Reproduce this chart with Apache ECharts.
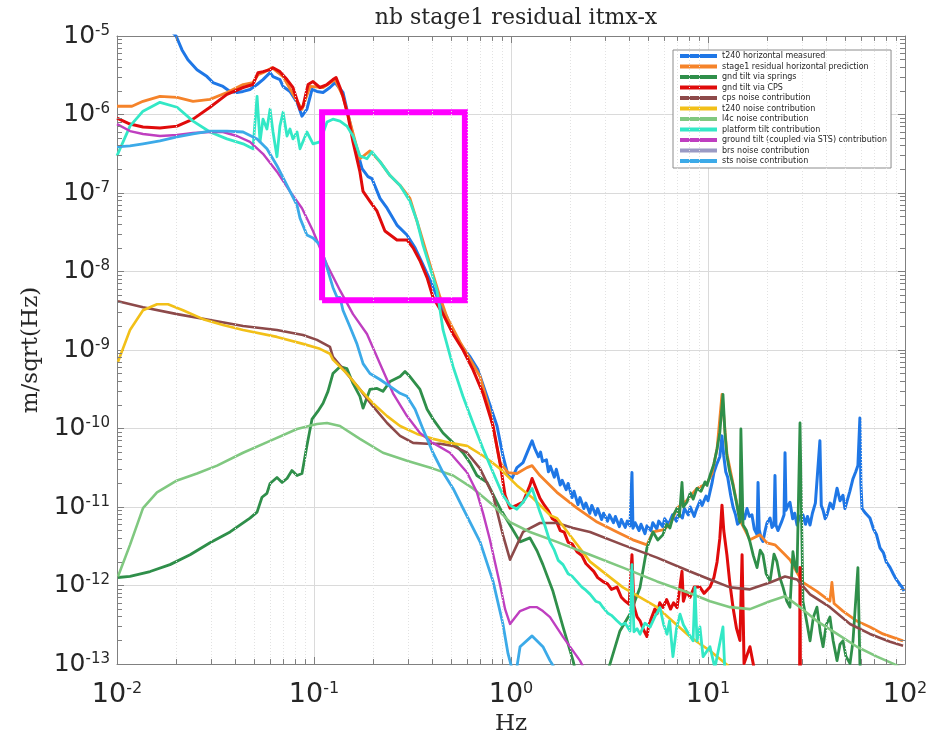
<!DOCTYPE html>
<html>
<head>
<meta charset="utf-8">
<script src="https://cdn.jsdelivr.net/npm/echarts@6/dist/echarts.min.js"></script>
<style>
html,body{margin:0;padding:0;background:#fff}
#chart{width:936px;height:741px}
</style>
</head>
<body>
<div id="chart"></div>
<script>
// Amplitude spectral densities, stored as [log10(Hz), log10(m/sqrt(Hz))] pairs.
const measuredLog = [
  [-1.74,-4.90],[-1.700,-5.000],[-1.670,-5.177],[-1.640,-5.303],[-1.594,-5.429],[-1.543,-5.517],[-1.513,-5.593],
  [-1.462,-5.643],[-1.426,-5.706],[-1.391,-5.719],[-1.360,-5.706],[-1.325,-5.681],[-1.289,-5.618],[-1.259,-5.555],
  [-1.223,-5.467],[-1.208,-5.517],[-1.173,-5.555],[-1.157,-5.643],[-1.122,-5.706],[-1.086,-5.845],[-1.061,-6.021],
  [-1.036,-5.933],[-1.010,-5.681],[-0.985,-5.706],[-0.954,-5.719],[-0.919,-5.656],[-0.893,-5.593],[-0.853,-5.719],
  [-0.833,-5.933],[-0.802,-6.274],[-0.756,-6.690],[-0.726,-6.791],[-0.706,-6.816],[-0.665,-7.068],[-0.629,-7.194],
  [-0.579,-7.409],[-0.528,-7.535],[-0.487,-7.699],[-0.447,-7.913],[-0.401,-8.165],[-0.360,-8.417],[-0.325,-8.581],
  [-0.310,-8.707],[-0.259,-8.922],[-0.208,-9.086],[-0.168,-9.250],[-0.122,-9.590],[-0.071,-9.968],[-0.041,-10.347],
  [-0.015,-10.599],[0.005,-10.637],[0.030,-10.498],[0.061,-10.435],[0.096,-10.221],[0.107,-10.157],[0.12,-10.25],
  [0.14,-10.36],[0.15,-10.30],[0.16,-10.42],[0.18,-10.40],[0.19,-10.55],[0.20,-10.48],[0.22,-10.62],[0.23,-10.52],
  [0.25,-10.72],[0.26,-10.66],[0.28,-10.78],[0.29,-10.70],[0.31,-10.88],[0.32,-10.80],[0.34,-10.97],[0.35,-10.88],
  [0.37,-11.02],[0.38,-10.95],[0.40,-11.08],[0.41,-10.98],[0.43,-11.10],[0.44,-11.02],[0.46,-11.16],[0.47,-11.08],
  [0.49,-11.18],[0.50,-11.10],[0.52,-11.20],[0.53,-11.12],[0.55,-11.25],[0.56,-11.16],[0.58,-11.26],[0.59,-11.18],
  [0.604,-11.24],[0.614,-10.56],[0.619,-11.27],[0.63,-11.20],[0.65,-11.30],[0.66,-11.22],[0.68,-11.34],[0.69,-11.24],
  [0.71,-11.30],[0.72,-11.20],[0.74,-11.28],[0.75,-11.18],[0.77,-11.25],[0.78,-11.15],[0.80,-11.22],[0.82,-11.10],
  [0.84,-11.18],[0.85,-11.08],[0.87,-11.14],[0.88,-11.02],[0.90,-11.10],[0.91,-11.00],[0.93,-11.12],[0.94,-11.04],
  [0.96,-10.92],[0.97,-10.98],[0.99,-10.86],[1.00,-10.92],[1.02,-10.70],[1.03,-10.56],[1.045,-10.45],[1.06,-10.36],
  [1.071,-10.094],[1.08,-10.35],[1.09,-10.55],[1.10,-10.62],[1.115,-10.85],[1.127,-11.00],[1.14,-11.10],[1.15,-11.22],
  [1.162,-11.19],[1.175,-11.08],[1.185,-11.15],[1.198,-11.02],[1.21,-11.12],[1.223,-11.10],[1.235,-11.28],[1.249,-11.35],
  [1.254,-10.687],[1.26,-11.29],[1.27,-11.40],[1.279,-11.44],[1.29,-11.30],[1.30,-11.20],[1.315,-11.14],[1.325,-11.26],
  [1.335,-11.23],[1.340,-10.60],[1.345,-11.23],[1.355,-11.30],[1.365,-11.32],[1.375,-11.18],[1.386,-11.10],[1.391,-10.31],
  [1.396,-11.04],[1.406,-10.98],[1.416,-10.94],[1.43,-11.15],[1.44,-11.08],[1.452,-11.23],[1.465,-11.12],[1.482,-11.10],
  [1.495,-11.22],[1.505,-11.12],[1.518,-11.23],[1.53,-11.08],[1.545,-10.95],[1.553,-10.94],[1.568,-10.157],[1.575,-10.98],
  [1.584,-11.04],[1.595,-11.15],[1.604,-11.10],[1.62,-10.95],[1.635,-11.02],[1.655,-10.76],[1.67,-10.92],[1.685,-10.85],
  [1.695,-11.02],[1.705,-11.01],[1.72,-10.80],[1.736,-10.64],[1.75,-10.55],[1.761,-10.47],[1.771,-9.867],[1.776,-10.70],
  [1.782,-11.02],[1.80,-11.08],[1.822,-11.14],[1.84,-11.28],[1.855,-11.35],[1.873,-11.52],[1.89,-11.58],[1.905,-11.70],
  [1.924,-11.77],[1.94,-11.85],[1.955,-11.92],[1.975,-11.99],[1.985,-12.02],[1.995,-12.07]
];
const predictionLog = [
  [-2.000,-5.895],[-1.924,-5.895],[-1.868,-5.832],[-1.782,-5.769],[-1.695,-5.782],[-1.614,-5.832],[-1.528,-5.807],
  [-1.442,-5.719],[-1.360,-5.618],[-1.310,-5.593],[-1.284,-5.492],[-1.259,-5.467],[-1.213,-5.404],[-1.157,-5.517],
  [-1.086,-5.832],[-1.061,-5.933],[-1.020,-5.643],[-0.954,-5.656],[-0.893,-5.555],[-0.853,-5.769],[-0.817,-6.097],
  [-0.767,-6.564],[-0.716,-6.463],[-0.665,-6.601],[-0.614,-6.778],[-0.563,-6.904],[-0.513,-7.068],[-0.462,-7.484],
  [-0.411,-7.913],[-0.360,-8.329],[-0.325,-8.581],[-0.259,-8.897],[-0.157,-9.338],[-0.107,-9.779],[-0.056,-10.435],
  [-0.015,-10.561],[0.030,-10.574],[0.081,-10.498],[0.107,-10.473],[0.147,-10.599],[0.233,-10.813],[0.335,-11.015],
  [0.437,-11.192],[0.538,-11.318],[0.619,-11.418],[0.690,-11.482],[0.721,-11.318],[0.771,-11.292],[0.807,-11.229],
  [0.843,-11.015],[0.893,-10.914],[0.944,-10.763],[0.995,-10.700],[1.020,-10.574],[1.046,-10.258],[1.071,-9.565],
  [1.096,-10.321],[1.127,-10.700],[1.162,-11.166],[1.213,-11.418],[1.264,-11.355],[1.299,-11.456],[1.340,-11.482],
  [1.381,-11.582],[1.416,-11.671],[1.452,-11.835],[1.482,-11.961],[1.553,-12.074],[1.619,-12.200],[1.629,-11.961],
  [1.640,-12.230],[1.685,-12.326],[1.756,-12.453],[1.822,-12.528],[1.888,-12.617],[1.990,-12.705]
];
const springsLog = [
  [-1.995,-11.898],[-1.934,-11.885],[-1.832,-11.822],[-1.731,-11.734],[-1.629,-11.608],[-1.528,-11.456],[-1.426,-11.318],
  [-1.325,-11.141],[-1.289,-11.065],[-1.264,-10.876],[-1.239,-10.826],[-1.223,-10.700],[-1.188,-10.624],[-1.162,-10.687],
  [-1.137,-10.637],[-1.112,-10.536],[-1.086,-10.599],[-1.061,-10.574],[-1.036,-10.221],[-1.010,-9.880],[-0.980,-9.779],
  [-0.954,-9.678],[-0.929,-9.527],[-0.904,-9.300],[-0.868,-9.212],[-0.833,-9.237],[-0.802,-9.426],[-0.767,-9.590],
  [-0.751,-9.741],[-0.716,-9.502],[-0.680,-9.489],[-0.650,-9.527],[-0.614,-9.401],[-0.563,-9.338],[-0.538,-9.275],
  [-0.513,-9.338],[-0.462,-9.502],[-0.426,-9.754],[-0.396,-9.880],[-0.345,-10.057],[-0.294,-10.183],[-0.244,-10.309],
  [-0.208,-10.435],[-0.173,-10.599],[-0.122,-10.687],[-0.056,-11.015],[-0.005,-11.229],[0.046,-11.444],[0.096,-11.393],
  [0.132,-11.557],[0.162,-11.734],[0.213,-12.074],[0.264,-12.528],[0.315,-12.957],[0.330,-13.121],[0.41,-13.6],
  [0.487,-13.121],[0.503,-12.995],[0.553,-12.579],[0.604,-12.364],[0.655,-12.024],[0.690,-11.519],[0.721,-11.318],
  [0.745,-11.42],[0.771,-11.355],[0.79,-11.22],[0.807,-11.267],[0.825,-11.10],[0.843,-11.015],[0.855,-11.12],
  [0.868,-10.687],[0.875,-11.00],[0.893,-10.939],[0.91,-10.82],[0.925,-10.90],[0.944,-10.763],[0.965,-10.80],
  [0.985,-10.68],[0.995,-10.725],[1.010,-10.599],[1.03,-10.45],[1.046,-10.258],[1.06,-10.05],[1.076,-9.565],
  [1.086,-10.05],[1.096,-10.347],[1.11,-10.55],[1.127,-10.725],[1.145,-10.95],[1.162,-11.192],[1.167,-10.006],
  [1.178,-11.229],[1.195,-11.30],[1.213,-11.444],[1.23,-11.62],[1.249,-11.772],[1.265,-11.55],[1.279,-11.608],
  [1.295,-11.85],[1.315,-11.948],[1.335,-11.60],[1.350,-11.696],[1.365,-11.90],[1.381,-12.024],[1.40,-12.20],
  [1.416,-12.276],[1.431,-11.570],[1.442,-11.75],[1.452,-11.822],[1.467,-9.930],[1.482,-12.200],[1.50,-12.45],
  [1.518,-12.705],[1.535,-12.40],[1.553,-12.276],[1.57,-12.60],[1.584,-12.780],[1.60,-12.50],[1.619,-12.402],
  [1.635,-12.70],[1.655,-12.957],[1.67,-12.75],[1.685,-12.705],[1.70,-12.90],[1.721,-12.995],[1.736,-12.705],
  [1.761,-11.772],[1.771,-12.995],[1.782,-13.2]
];
const cpsTiltLog = [
  [-2.000,-6.047],[-1.934,-6.122],[-1.868,-6.160],[-1.782,-6.173],[-1.695,-6.148],[-1.614,-6.059],[-1.528,-5.908],
  [-1.442,-5.744],[-1.360,-5.656],[-1.310,-5.618],[-1.284,-5.467],[-1.259,-5.454],[-1.223,-5.429],[-1.208,-5.404],
  [-1.173,-5.454],[-1.137,-5.555],[-1.107,-5.656],[-1.071,-5.933],[-1.056,-5.895],[-1.030,-5.618],[-1.005,-5.580],
  [-0.970,-5.656],[-0.934,-5.618],[-0.904,-5.555],[-0.888,-5.530],[-0.868,-5.656],[-0.853,-5.769],[-0.827,-6.021],
  [-0.802,-6.349],[-0.767,-6.728],[-0.751,-6.980],[-0.716,-7.106],[-0.680,-7.232],[-0.640,-7.484],[-0.579,-7.598],
  [-0.528,-7.598],[-0.497,-7.699],[-0.462,-7.862],[-0.426,-8.077],[-0.396,-8.329],[-0.345,-8.543],[-0.294,-8.796],
  [-0.244,-8.997],[-0.193,-9.250],[-0.142,-9.552],[-0.091,-9.968],[-0.056,-10.435],[-0.030,-10.851],[-0.005,-11.015],
  [0.030,-10.977],[0.061,-10.939],[0.096,-10.725],[0.107,-10.637],[0.147,-10.889],[0.17,-10.98],[0.19,-11.05],
  [0.21,-11.15],[0.23,-11.18],[0.25,-11.30],[0.27,-11.32],[0.29,-11.45],[0.31,-11.47],[0.335,-11.57],[0.36,-11.62],
  [0.38,-11.72],[0.40,-11.77],[0.42,-11.82],[0.44,-11.90],[0.467,-11.95],[0.49,-11.98],[0.51,-12.05],[0.538,-12.02],
  [0.56,-12.15],[0.58,-12.20],[0.60,-12.24],[0.614,-11.608],[0.624,-12.26],[0.64,-12.40],[0.655,-12.45],[0.67,-12.55],
  [0.69,-12.65],[0.70,-12.50],[0.715,-12.40],[0.73,-12.30],[0.741,-12.36],[0.755,-12.22],[0.771,-12.28],[0.79,-12.18],
  [0.81,-12.30],[0.825,-12.22],[0.843,-12.28],[0.868,-11.82],[0.875,-12.20],[0.89,-12.08],[0.909,-12.15],[0.93,-12.02],
  [0.959,-12.02],[0.98,-12.10],[1.010,-12.02],[1.03,-11.90],[1.046,-11.70],[1.06,-11.40],[1.071,-10.977],[1.08,-11.30],
  [1.096,-11.61],[1.11,-11.95],[1.127,-12.28],[1.145,-12.55],[1.162,-12.70],[1.173,-11.608],[1.183,-12.995],
  [1.213,-12.780],[1.239,-13.121],[1.35,-13.6],[1.465,-13.2],[1.467,-11.772],[1.469,-13.2],[1.55,-13.6]
];
const cpsNoiseLog = [
  [-1.995,-8.380],[-1.868,-8.455],[-1.695,-8.543],[-1.528,-8.619],[-1.360,-8.695],[-1.188,-8.745],[-1.056,-8.808],
  [-0.985,-8.871],[-0.919,-8.960],[-0.904,-9.086],[-0.833,-9.300],[-0.767,-9.502],[-0.701,-9.716],[-0.629,-9.930],
  [-0.563,-10.094],[-0.497,-10.183],[-0.426,-10.195],[-0.360,-10.195],[-0.294,-10.221],[-0.223,-10.309],[-0.157,-10.511],
  [-0.091,-10.851],[-0.041,-11.355],[-0.005,-11.671],[0.030,-11.482],[0.061,-11.318],[0.147,-11.204],[0.233,-11.204],
  [0.315,-11.267],[0.401,-11.318],[0.568,-11.482],[0.741,-11.645],[0.909,-11.822],[1.010,-11.923],[1.112,-12.024],
  [1.213,-12.049],[1.315,-11.961],[1.391,-11.885],[1.452,-11.923],[1.518,-12.112],[1.619,-12.276],[1.721,-12.490],
  [1.822,-12.617],[1.924,-12.717],[1.990,-12.768]
];
const t240NoiseLog = [
  [-1.995,-9.149],[-1.934,-8.745],[-1.868,-8.493],[-1.797,-8.417],[-1.741,-8.417],[-1.665,-8.493],[-1.563,-8.607],
  [-1.462,-8.682],[-1.360,-8.745],[-1.188,-8.833],[-1.056,-8.922],[-0.970,-8.985],[-0.919,-9.048],[-0.904,-9.123],
  [-0.833,-9.300],[-0.767,-9.502],[-0.701,-9.678],[-0.629,-9.842],[-0.563,-9.968],[-0.477,-10.069],[-0.396,-10.132],
  [-0.310,-10.183],[-0.223,-10.221],[-0.142,-10.347],[-0.107,-10.410],[-0.056,-10.511],[0.030,-10.725],[0.112,-10.889],
  [0.198,-11.103],[0.233,-11.141],[0.401,-11.696],[0.568,-12.024],[0.741,-12.276],[0.909,-12.654],[1.010,-12.831],
  [1.101,-13.020],[1.2,-13.3]
];
const l4cNoiseLog = [
  [-1.995,-11.885],[-1.934,-11.482],[-1.868,-11.015],[-1.797,-10.813],[-1.695,-10.662],[-1.594,-10.574],[-1.492,-10.473],
  [-1.360,-10.309],[-1.223,-10.157],[-1.086,-10.006],[-0.985,-9.943],[-0.934,-9.930],[-0.868,-9.968],[-0.767,-10.132],
  [-0.650,-10.309],[-0.528,-10.410],[-0.396,-10.511],[-0.294,-10.599],[-0.193,-10.763],[-0.091,-10.977],[-0.005,-11.192],
  [0.096,-11.318],[0.233,-11.444],[0.401,-11.608],[0.568,-11.772],[0.741,-11.948],[0.909,-12.099],[1.010,-12.200],
  [1.112,-12.276],[1.213,-12.301],[1.315,-12.200],[1.391,-12.137],[1.467,-12.276],[1.553,-12.453],[1.655,-12.617],
  [1.756,-12.780],[1.858,-12.906],[1.939,-12.995],[1.975,-13.04]
];
const platformTiltLog = [
  [-2.000,-6.526],[-1.934,-6.148],[-1.868,-5.958],[-1.782,-5.845],[-1.695,-5.908],[-1.614,-6.084],[-1.528,-6.223],
  [-1.442,-6.311],[-1.360,-6.374],[-1.310,-6.437],[-1.289,-5.769],[-1.274,-6.349],[-1.259,-6.059],[-1.239,-6.185],
  [-1.223,-5.933],[-1.208,-6.223],[-1.188,-6.538],[-1.173,-6.148],[-1.157,-5.971],[-1.137,-6.274],[-1.122,-6.185],
  [-1.107,-6.311],[-1.086,-6.223],[-1.071,-6.437],[-1.036,-6.223],[-1.005,-6.374],[-0.970,-6.349],[-0.934,-6.097],
  [-0.904,-6.059],[-0.868,-6.084],[-0.833,-6.148],[-0.802,-6.274],[-0.767,-6.526],[-0.731,-6.564],[-0.706,-6.475],
  [-0.665,-6.601],[-0.614,-6.778],[-0.563,-6.904],[-0.513,-7.106],[-0.477,-7.358],[-0.447,-7.661],[-0.411,-7.951],
  [-0.376,-8.241],[-0.360,-8.493],[-0.345,-8.745],[-0.294,-9.212],[-0.244,-9.590],[-0.193,-9.930],[-0.142,-10.258],
  [-0.091,-10.561],[-0.041,-10.851],[-0.005,-10.977],[0.030,-11.028],[0.061,-10.939],[0.107,-10.763],[0.147,-11.065],
  [0.17,-11.22],[0.198,-11.444],[0.22,-11.55],[0.24,-11.68],[0.264,-11.734],[0.29,-11.85],[0.31,-11.88],[0.335,-11.95],
  [0.36,-12.02],[0.38,-12.06],[0.401,-12.11],[0.43,-12.20],[0.45,-12.22],[0.467,-12.28],[0.49,-12.35],[0.51,-12.38],
  [0.538,-12.45],[0.56,-12.50],[0.58,-12.48],[0.604,-12.58],[0.614,-11.734],[0.624,-12.59],[0.64,-12.55],[0.655,-12.62],
  [0.68,-12.48],[0.706,-12.53],[0.73,-12.40],[0.756,-12.28],[0.775,-12.50],[0.792,-12.62],[0.805,-12.45],[0.822,-12.906],
  [0.84,-12.55],[0.858,-12.364],[0.875,-12.50],[0.893,-12.579],[0.924,-12.705],[0.934,-12.024],[0.944,-12.705],
  [0.959,-12.528],[0.975,-12.906],[1.010,-12.780],[1.035,-13.05],[1.076,-12.528],[1.086,-13.12],[1.12,-13.4]
];
const stsTiltLog = [
  [-2.000,-6.122],[-1.934,-6.211],[-1.868,-6.248],[-1.782,-6.274],[-1.695,-6.261],[-1.614,-6.236],[-1.528,-6.223],
  [-1.462,-6.223],[-1.391,-6.274],[-1.325,-6.349],[-1.259,-6.501],[-1.188,-6.728],[-1.122,-6.980],[-1.061,-7.194],
  [-1.005,-7.484],[-0.934,-7.913],[-0.868,-8.241],[-0.802,-8.543],[-0.731,-8.796],[-0.665,-9.174],[-0.599,-9.552],
  [-0.528,-9.842],[-0.462,-10.057],[-0.396,-10.183],[-0.310,-10.309],[-0.223,-10.561],[-0.173,-10.813],[-0.142,-11.078],
  [-0.107,-11.418],[-0.056,-11.986],[-0.030,-12.301],[-0.005,-12.490],[0.046,-12.326],[0.096,-12.276],[0.132,-12.276],
  [0.162,-12.326],[0.198,-12.402],[0.264,-12.654],[0.350,-12.957],[0.371,-13.058],[0.42,-13.3]
];
const brsNoiseLog = [];
const stsNoiseLog = [
  [-2.000,-6.412],[-1.934,-6.400],[-1.868,-6.374],[-1.782,-6.337],[-1.695,-6.286],[-1.614,-6.248],[-1.528,-6.211],
  [-1.442,-6.211],[-1.360,-6.223],[-1.289,-6.311],[-1.239,-6.437],[-1.188,-6.652],[-1.137,-6.904],[-1.086,-7.156],
  [-1.071,-7.320],[-1.036,-7.535],[-1.005,-7.572],[-0.970,-7.661],[-0.934,-7.951],[-0.904,-8.203],[-0.883,-8.329],
  [-0.868,-8.329],[-0.853,-8.493],[-0.817,-8.707],[-0.782,-8.922],[-0.751,-9.174],[-0.716,-9.300],[-0.665,-9.376],
  [-0.614,-9.464],[-0.563,-9.552],[-0.528,-9.590],[-0.487,-9.754],[-0.447,-10.006],[-0.396,-10.309],[-0.345,-10.561],
  [-0.294,-10.763],[-0.244,-11.015],[-0.157,-11.444],[-0.091,-11.948],[-0.041,-12.490],[-0.015,-12.869],[0.005,-13.06],
  [0.02,-13.2],[0.046,-12.780],[0.107,-12.642],[0.162,-12.780],[0.198,-12.957],[0.223,-13.06],[0.26,-13.3]
];

// Highlight box corners: [log10(Hz)] and [log10(m/sqrt(Hz))].
const boxFreqLog = [-0.959, -0.234];
const boxAmpLog = [-8.367, -5.971];

const seriesNames = [
  't240 horizontal measured', 'stage1 residual horizontal prediction', 'gnd tilt via springs',
  'gnd tilt via CPS', 'cps noise contribution', 't240 noise contribution', 'l4c noise contribution',
  'platform tilt contribution', 'ground tilt (coupled via STS) contribution', 'brs noise contribution',
  'sts noise contribution'
];
const seriesData = [measuredLog, predictionLog, springsLog, cpsTiltLog, cpsNoiseLog, t240NoiseLog,
  l4cNoiseLog, platformTiltLog, stsTiltLog, brsNoiseLog, stsNoiseLog];
const seriesColors = ['#1f77e6', '#f5832a', '#2f8f4a', '#e00b0b', '#8d4a4a', '#f2c018', '#80c880',
  '#33e8c6', '#bf3fc0', '#9a9ac4', '#3caae8'];
const seriesWidths = [3, 2.8, 2.8, 3, 2.6, 2.6, 2.6, 2.8, 2.4, 2.6, 2.8];

const xRange = [1e-2, 1e2];
const yRange = [1e-13, 1e-5];

const toLinear = arr => arr.map(p => [Math.pow(10, p[0]), Math.pow(10, p[1])]);

// minor decade subdivisions (2..9)
function minorValues(lo, hi) {
  const out = [];
  for (let d = lo; d < hi; d++) for (let k = 2; k < 10; k++) out.push(k * Math.pow(10, d));
  return out;
}
const minorX = minorValues(-2, 2);
const minorY = minorValues(-13, -5);

const gridLineStyle = { color: '#e2e2e2', width: 1, type: [1, 2] };
const gridMarks = [];
minorX.forEach(v => gridMarks.push({ xAxis: v }));
minorY.forEach(v => gridMarks.push({ yAxis: v }));

// short inward tick segments at the minor positions on all four sides
const tickDecX = 5 / 197, tickDecY = 5 / 79.4;
const tickMarks = [];
minorX.forEach(v => {
  tickMarks.push([{ coord: [v, yRange[0]] }, { coord: [v, yRange[0] * Math.pow(10, tickDecY)] }]);
  tickMarks.push([{ coord: [v, yRange[1]] }, { coord: [v, yRange[1] / Math.pow(10, tickDecY)] }]);
});
minorY.forEach(v => {
  tickMarks.push([{ coord: [xRange[0], v] }, { coord: [xRange[0] * Math.pow(10, tickDecX), v] }]);
  tickMarks.push([{ coord: [xRange[1], v] }, { coord: [xRange[1] / Math.pow(10, tickDecX), v] }]);
});

const boxPath = [
  [boxFreqLog[0], boxAmpLog[0]], [boxFreqLog[1], boxAmpLog[0]], [boxFreqLog[1], boxAmpLog[1]],
  [boxFreqLog[0], boxAmpLog[1]], [boxFreqLog[0], boxAmpLog[0]]
];

const supLabel = v => {
  const e = Math.round(Math.log10(v));
  return '{b|10}{e|' + e + '}';
};

const axisColor = '#808080';
const textColor = '#262626';

const series = [{
  type: 'line', name: '_grid', data: [], silent: true, z: 1,
  markLine: { symbol: ['none', 'none'], silent: true, animation: false, label: { show: false },
    lineStyle: gridLineStyle, emphasis: { disabled: true }, data: gridMarks }
}];
seriesNames.forEach((n, i) => {
  series.push({
    type: 'line', name: n, data: toLinear(seriesData[i]), showSymbol: false, symbol: 'none',
    lineStyle: { color: seriesColors[i], width: seriesWidths[i], join: 'round' },
    itemStyle: { color: seriesColors[i] }, z: 2 + i * 0.01, clip: true, animation: false,
    emphasis: { disabled: true }
  });
});
series.push({
  type: 'line', name: '_box', data: toLinear(boxPath), showSymbol: false, symbol: 'none',
  lineStyle: { color: '#ff00ff', width: 6, join: 'miter' }, z: 4, silent: true, animation: false
});
series.push({
  type: 'line', name: '_ticks', data: [], silent: true, z: 5,
  markLine: { symbol: ['none', 'none'], silent: true, animation: false, label: { show: false },
    lineStyle: { color: axisColor, width: 1, type: 'solid' }, emphasis: { disabled: true }, data: tickMarks }
});

const chart = echarts.init(document.getElementById('chart'), null, { renderer: 'canvas' });
chart.setOption({
  backgroundColor: '#ffffff',
  animation: false,
  title: {
    text: 'nb stage1 residual itmx-x', left: 511, top: 2, textAlign: 'center',
    textStyle: { fontFamily: 'DejaVu Serif', fontSize: 22, fontWeight: 'normal', color: textColor }
  },
  grid: { left: 117, right: 31, top: 36, bottom: 70, show: false },
  legend: {
    data: seriesNames, orient: 'vertical', left: 673, top: 50,
    padding: [1, 4, 2, 7], itemGap: 0.5, itemWidth: 37, itemHeight: 4, icon: 'rect',
    backgroundColor: '#ffffff', borderColor: '#8c8c8c', borderWidth: 1,
    textStyle: { fontFamily: 'DejaVu Sans', fontSize: 8, lineHeight: 10, color: textColor },
    selectedMode: false
  },
  xAxis: [{
    type: 'log', logBase: 10, min: xRange[0], max: xRange[1], interval: 1,
    name: 'Hz', nameLocation: 'middle', nameGap: 49,
    nameTextStyle: { fontFamily: 'DejaVu Serif', fontSize: 23, color: textColor },
    axisLine: { show: true, lineStyle: { color: axisColor, width: 1 } },
    axisTick: { show: true, inside: true, length: 7, lineStyle: { color: axisColor } },
    splitLine: { show: true, lineStyle: { color: '#dadada', width: 1 } },
    axisLabel: {
      margin: 17, formatter: supLabel, color: textColor,
      rich: {
        b: { fontFamily: 'DejaVu Sans', fontSize: 27, color: textColor },
        e: { fontFamily: 'DejaVu Sans', fontSize: 16, color: textColor, verticalAlign: 'top' }
      }
    }
  }, {
    type: 'log', logBase: 10, min: xRange[0], max: xRange[1], interval: 1, position: 'top',
    axisLine: { show: true, lineStyle: { color: axisColor, width: 1 } },
    axisTick: { show: true, inside: true, length: 7, lineStyle: { color: axisColor } },
    axisLabel: { show: false }, splitLine: { show: false }
  }],
  yAxis: [{
    type: 'log', logBase: 10, min: yRange[0], max: yRange[1], interval: 1,
    name: 'm/sqrt(Hz)', nameLocation: 'middle', nameGap: 65, nameRotate: 90,
    nameTextStyle: { fontFamily: 'DejaVu Serif', fontSize: 23, color: textColor },
    axisLine: { show: true, lineStyle: { color: axisColor, width: 1 } },
    axisTick: { show: true, inside: true, length: 7, lineStyle: { color: axisColor } },
    splitLine: { show: true, lineStyle: { color: '#dadada', width: 1 } },
    axisLabel: {
      margin: 7, formatter: supLabel, color: textColor,
      rich: {
        b: { fontFamily: 'DejaVu Sans', fontSize: 25, color: textColor },
        e: { fontFamily: 'DejaVu Sans', fontSize: 15, color: textColor, verticalAlign: 'top' }
      }
    }
  }, {
    type: 'log', logBase: 10, min: yRange[0], max: yRange[1], interval: 1, position: 'right',
    axisLine: { show: true, lineStyle: { color: axisColor, width: 1 } },
    axisTick: { show: true, inside: true, length: 7, lineStyle: { color: axisColor } },
    axisLabel: { show: false }, splitLine: { show: false }
  }],
  series: series
});
</script>
</body>
</html>
